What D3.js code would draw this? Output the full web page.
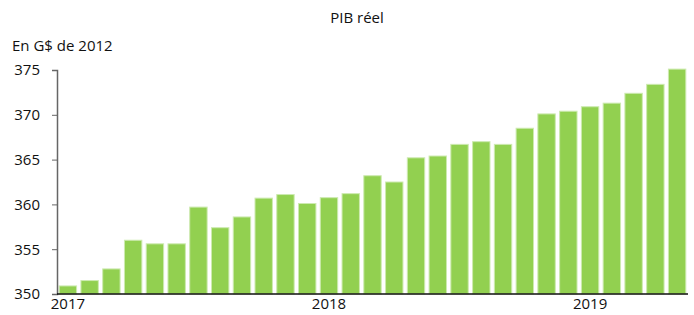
<!DOCTYPE html>
<html><head><meta charset="utf-8">
<script src="https://cdn.jsdelivr.net/npm/d3@7"></script>
<style>body{margin:0;background:#fff}svg{display:block}text{font-family:"Open Sans","Noto Sans",sans-serif;fill:#111}</style>
</head><body><svg id="c" width="694" height="315"></svg>
<script>
const months = ["2017-01","2017-02","2017-03","2017-04","2017-05","2017-06","2017-07","2017-08","2017-09","2017-10","2017-11","2017-12",
"2018-01","2018-02","2018-03","2018-04","2018-05","2018-06","2018-07","2018-08","2018-09","2018-10","2018-11","2018-12",
"2019-01","2019-02","2019-03","2019-04","2019-05"];
const pib = [350.9,351.5,352.8,356.0,355.6,355.6,359.7,357.4,358.6,360.7,361.1,360.1,
360.75,361.2,363.2,362.5,365.2,365.4,366.7,367.0,366.7,368.5,370.1,370.4,370.9,371.3,372.4,373.4,375.1];
const yTicks = [350,355,360,365,370,375];
const yearLabels = {"2017-01":"2017","2018-01":"2018","2019-01":"2019"};
const title = "PIB réel";
const unit = "En G$ de 2012";

const svg = d3.select("#c");
const x = d3.scaleBand().domain(months).range([57,688]).paddingInner(0.2).paddingOuter(0.1);
const y = d3.scaleLinear().domain([350,375]).range([294,70]);

svg.append("text").attr("x",357).attr("y",23).attr("text-anchor","middle").style("font-size","15px").text(title);
svg.append("text").attr("x",12).attr("y",51).style("font-size","15px").text(unit);

svg.selectAll("rect.bar").data(pib).join("rect").attr("class","bar")
  .attr("x",(d,i)=>x(months[i])).attr("width",x.bandwidth())
  .attr("y",d=>y(d)).attr("height",d=>y(350)-y(d))
  .attr("fill","#92d050").attr("stroke","#cdeab0").attr("stroke-width",1);

const ya = svg.append("g").attr("transform","translate(57,0)")
  .call(d3.axisLeft(y).tickValues(yTicks).tickSize(5).tickPadding(12).tickFormat(d3.format("d")));
ya.select(".domain").attr("stroke","#666").attr("stroke-width",1.5);
ya.selectAll(".tick line").attr("stroke","#666");
ya.selectAll(".tick text").style("font-size","15px").attr("fill","#111");

const xa = svg.append("g").attr("transform","translate(0,294)")
  .call(d3.axisBottom(x).tickSize(0).tickPadding(4).tickFormat(d=>yearLabels[d]||""));
xa.select(".domain").attr("stroke","#111").attr("stroke-width",1.5).attr("d","M57,0H688");
xa.selectAll(".tick text").style("font-size","15px").attr("fill","#111");
</script></body></html>
